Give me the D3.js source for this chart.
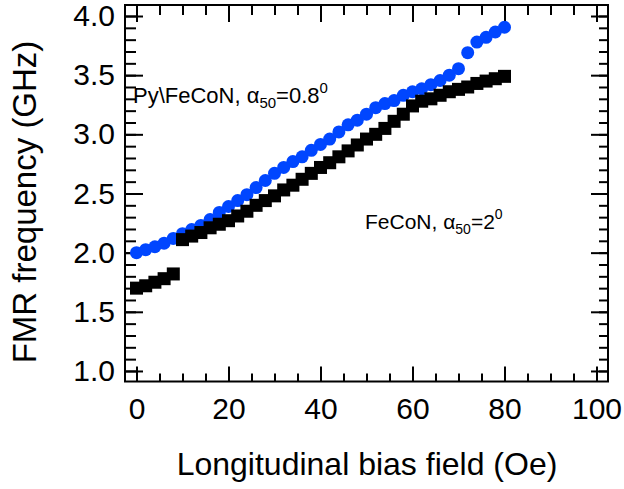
<!DOCTYPE html>
<html>
<head>
<meta charset="utf-8">
<script src="https://cdnjs.cloudflare.com/ajax/libs/d3/7.8.5/d3.min.js"></script>
<style>
  body { margin: 0; background: #fff; }
  svg text { font-family: "Liberation Sans", Arial, sans-serif; }
</style>
</head>
<body>
<div id="root"></div>
<script>
const width = 624;
const height = 489;
const frame = { left: 125, right: 608, top: 5, bottom: 381.5 };

// Bias field (Oe), shared by both series
const field = [
  0, 2, 4, 6, 8, 10, 12, 14, 16, 18, 20, 22, 24, 26, 28, 30, 32, 34, 36, 38, 40,
  42, 44, 46, 48, 50, 52, 54, 56, 58, 60, 62, 64, 66, 68, 70, 72, 74, 76, 78, 80,
];

// Py\FeCoN (blue circles), GHz
const pyFeCoN = [
  2.0, 2.025, 2.05, 2.08, 2.12, 2.16, 2.195, 2.23, 2.28, 2.34, 2.39, 2.44, 2.49,
  2.55, 2.61, 2.67, 2.72, 2.77, 2.81, 2.865, 2.915, 2.96, 3.02, 3.08, 3.12, 3.17,
  3.225, 3.26, 3.285, 3.33, 3.36, 3.385, 3.42, 3.455, 3.5, 3.555, 3.69, 3.78,
  3.82, 3.865, 3.905,
];

// FeCoN (black squares), GHz
const feCoN = [
  1.7, 1.72, 1.75, 1.78, 1.82, 2.11, 2.14, 2.17, 2.21, 2.24, 2.27, 2.31, 2.35,
  2.4, 2.44, 2.48, 2.53, 2.57, 2.62, 2.67, 2.72, 2.76, 2.81, 2.86, 2.91, 2.96,
  3.0, 3.05, 3.11, 3.17, 3.24, 3.28, 3.3, 3.33, 3.36, 3.38, 3.4, 3.43, 3.45,
  3.47, 3.49,
];

const xMajor = [0, 20, 40, 60, 80, 100];
const xMinor = [0, 5, 10, 15, 20, 25, 30, 35, 40, 45, 50, 55, 60, 65, 70, 75, 80, 85, 90, 95, 100];
const yMajor = [1.0, 1.5, 2.0, 2.5, 3.0, 3.5, 4.0];
const yMinor = [
  1.0, 1.1, 1.2, 1.3, 1.4, 1.5, 1.6, 1.7, 1.8, 1.9, 2.0, 2.1, 2.2, 2.3, 2.4, 2.5,
  2.6, 2.7, 2.8, 2.9, 3.0, 3.1, 3.2, 3.3, 3.4, 3.5, 3.6, 3.7, 3.8, 3.9, 4.0,
];

const blue = '#0046ff';

const svg = d3
  .select('#root')
  .append('svg')
  .attr('width', width)
  .attr('height', height);

// Scales

const xScale = d3
  .scaleLinear()
  .domain([-2.5, 102.5])
  .range([frame.left, frame.right]);

const yScale = d3
  .scaleLinear()
  .domain([0.911, 4.093])
  .range([frame.bottom, frame.top]);

// Axes (ticks point inward on all four sides)

function styleAxis(g, fontSize) {
  g.select('.domain').remove();
  g.selectAll('.tick line').attr('stroke', '#000').attr('stroke-width', 2);
  g.selectAll('.tick text')
    .attr('fill', '#000')
    .style('font-size', fontSize + 'px');
}

const noLabel = () => '';

svg.append('g')
  .attr('transform', `translate(0, ${frame.bottom})`)
  .call(d3.axisBottom(xScale).tickValues(xMinor).tickFormat(noLabel).tickSize(-8).tickSizeOuter(0))
  .call((g) => styleAxis(g, 0));

svg.append('g')
  .attr('transform', `translate(0, ${frame.bottom})`)
  .call(d3.axisBottom(xScale).tickValues(xMajor).tickFormat(d3.format('d')).tickSize(-15).tickSizeOuter(0).tickPadding(16))
  .call((g) => styleAxis(g, 30));

svg.append('g')
  .attr('transform', `translate(0, ${frame.top})`)
  .call(d3.axisTop(xScale).tickValues(xMinor).tickFormat(noLabel).tickSize(-10).tickSizeOuter(0))
  .call((g) => styleAxis(g, 0));

svg.append('g')
  .attr('transform', `translate(0, ${frame.top})`)
  .call(d3.axisTop(xScale).tickValues(xMajor).tickFormat(noLabel).tickSize(-17).tickSizeOuter(0))
  .call((g) => styleAxis(g, 0));

svg.append('g')
  .attr('transform', `translate(${frame.left}, 0)`)
  .call(d3.axisLeft(yScale).tickValues(yMinor).tickFormat(noLabel).tickSize(-11).tickSizeOuter(0))
  .call((g) => styleAxis(g, 0));

svg.append('g')
  .attr('transform', `translate(${frame.left}, 0)`)
  .call(d3.axisLeft(yScale).tickValues(yMajor).tickFormat(d3.format('.1f')).tickSize(-18).tickSizeOuter(0).tickPadding(10))
  .call((g) => styleAxis(g, 30));

svg.append('g')
  .attr('transform', `translate(${frame.right}, 0)`)
  .call(d3.axisRight(yScale).tickValues(yMinor).tickFormat(noLabel).tickSize(-9).tickSizeOuter(0))
  .call((g) => styleAxis(g, 0));

svg.append('g')
  .attr('transform', `translate(${frame.right}, 0)`)
  .call(d3.axisRight(yScale).tickValues(yMajor).tickFormat(noLabel).tickSize(-17).tickSizeOuter(0))
  .call((g) => styleAxis(g, 0));

// Frame

svg.append('rect')
  .attr('x', frame.left)
  .attr('y', frame.top)
  .attr('width', frame.right - frame.left)
  .attr('height', frame.bottom - frame.top)
  .attr('fill', 'none')
  .attr('stroke', '#000')
  .attr('stroke-width', 2);

// Data: blue circles first, black squares on top

svg.append('g')
  .selectAll('circle')
  .data(field)
  .enter()
  .append('circle')
  .attr('cx', (d) => xScale(d))
  .attr('cy', (d, i) => yScale(pyFeCoN[i]))
  .attr('r', 6.5)
  .attr('fill', blue);

const sq = 13;

svg.append('g')
  .selectAll('rect')
  .data(field)
  .enter()
  .append('rect')
  .attr('x', (d) => xScale(d) - sq / 2)
  .attr('y', (d, i) => yScale(feCoN[i]) - sq / 2)
  .attr('width', sq)
  .attr('height', sq)
  .attr('fill', '#000');

// Annotations

function label(x, y, name, value, size) {
  const small = Math.round(size * 0.66);
  const t = svg.append('text').attr('x', x).attr('y', y).attr('fill', '#000').style('font-size', size + 'px');
  t.append('tspan').text(name + ', \u03b1');
  t.append('tspan').attr('dy', 5).style('font-size', small + 'px').text('50');
  t.append('tspan').attr('dy', -5).text('=' + value);
  t.append('tspan').attr('dy', -10).style('font-size', small + 'px').text('0');
}

label(133, 103, 'Py\\FeCoN', '0.8', 22);
label(365, 229, 'FeCoN', '2', 21);

// Axis titles

svg.append('text')
  .attr('x', 367)
  .attr('y', 475)
  .attr('text-anchor', 'middle')
  .style('font-size', '32px')
  .text('Longitudinal bias field (Oe)');

svg.append('text')
  .attr('transform', 'translate(36, 202) rotate(-90)')
  .attr('text-anchor', 'middle')
  .style('font-size', '33px')
  .text('FMR frequency (GHz)');
</script>
</body>
</html>
